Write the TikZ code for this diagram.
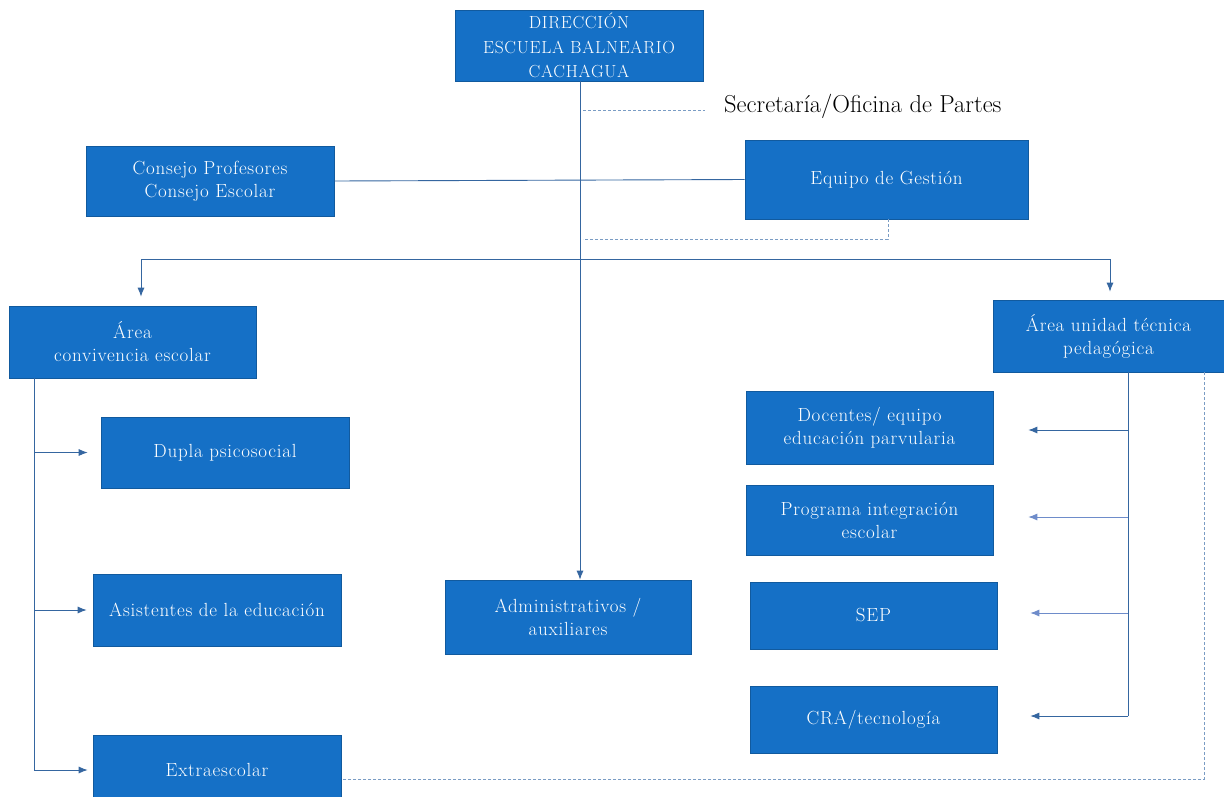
\documentclass[tikz,border=0pt]{standalone}
\usepackage{fontspec}
\setmainfont{Latin Modern Roman}[LetterSpace=4]
\newfontfamily\plainfont{Latin Modern Roman}
\usetikzlibrary{arrows.meta}
\definecolor{boxblue}{HTML}{1570C6}
\definecolor{linecol}{HTML}{3566A0}
\definecolor{dashcol}{HTML}{7A9CC4}
\begin{document}
\begin{tikzpicture}[x=1pt,y=-1pt,
  box/.style={draw=boxblue!80!black,line width=0.6pt,fill=boxblue,text=white,align=center,inner sep=0pt,
    font=\fontsize{19}{23}\selectfont},
  conn/.style={draw=linecol,line width=0.9pt},
  arr/.style={conn,-{Latex[length=9pt,width=7pt]}},
  dsh/.style={draw=dashcol,line width=0.9pt,dash pattern=on 3pt off 2pt}]
\useasboundingbox[fill=white] (0,0) rectangle (1224,796);
% boxes
\node[box,minimum width=248,minimum height=71,font=\fontsize{17.5}{24.5}\selectfont] (dir) at (579,45.5) {DIRECCIÓN\\ESCUELA BALNEARIO\\CACHAGUA};
\node[box,minimum width=248,minimum height=70] (cons) at (210,181) {Consejo Profesores\\Consejo Escolar};
\node[box,minimum width=283,minimum height=79] (eq) at (886.5,179.5) {Equipo de Gestión};
\node[box,minimum width=247,minimum height=72] (conv) at (132.5,342) {Área\\convivencia escolar};
\node[box,minimum width=231,minimum height=72] (utp) at (1108.5,336) {Área unidad técnica\\pedagógica};
\node[box,minimum width=248,minimum height=71] (dupla) at (225,452.5) {Dupla psicosocial};
\node[box,minimum width=248,minimum height=72] (asis) at (217,610) {Asistentes de la educación};
\node[box,minimum width=248,minimum height=70] (extra) at (217,770) {Extraescolar};
\node[box,minimum width=246,minimum height=74] (adm) at (568,617) {Administrativos /\\auxiliares};
\node[box,minimum width=247,minimum height=73] (doc) at (869.5,427.5) {Docentes/ equipo\\educación parvularia};
\node[box,minimum width=247,minimum height=70] (pie) at (869.5,520) {Programa integración\\escolar};
\node[box,minimum width=247,minimum height=67] (sep) at (873.5,615.5) {SEP};
\node[box,minimum width=247,minimum height=67] (cra) at (873.5,719.5) {CRA/tecnología};
\node[anchor=west,inner sep=0pt,font=\plainfont\fontsize{24.5}{28}\selectfont] (secr) at (724,106) {Secretaría/Oficina de Partes};
% coordinates
\coordinate (dv) at (580,81);
\coordinate (sd) at (705,110);
\coordinate (hl) at (141,259);
\coordinate (hr) at (1110,259);
\coordinate (lv) at (34,378);
\coordinate (rv) at (1128,372);
\coordinate (eqd) at (888,219);
% main lines
\draw[arr] (dv) -- (dv |- adm.north);
\draw[dsh] (583,110) -- (sd);
\draw[conn] (cons.east) -- (eq.west);
\draw[dsh] (eqd) -- (eqd |- 0,239) -- (583,239);
\draw[conn] (hl) -- (hr);
\draw[arr,shorten >=9pt] (hl) -- (hl |- conv.north);
\draw[arr,shorten >=8pt] (hr) -- (hr |- utp.north);
% left branch
\draw[conn] (lv) -- (34,770);
\draw[arr,shorten >=13pt] (lv |- dupla.west) -- (dupla.west);
\draw[arr,shorten >=6pt] (lv |- asis.west) -- (asis.west);
\draw[arr,shorten >=5pt] (lv |- extra.west) -- (extra.west);
% right branch
\draw[conn] (rv) -- (1128,716);
\draw[arr,shorten >=35pt] (1128,430) -- (doc.east |- 0,430);
\draw[arr,shorten >=35pt,draw=dashcol!90!blue] (1128,517) -- (pie.east |- 0,517);
\draw[arr,shorten >=33pt,draw=dashcol!90!blue] (1128,613) -- (sep.east |- 0,613);
\draw[arr,shorten >=33pt] (1128,716) -- (cra.east |- 0,716);
% dashed return
\draw[dsh] (1204,372) -- (1204,779) -- (extra.east |- 0,779);
\end{tikzpicture}
\end{document}
